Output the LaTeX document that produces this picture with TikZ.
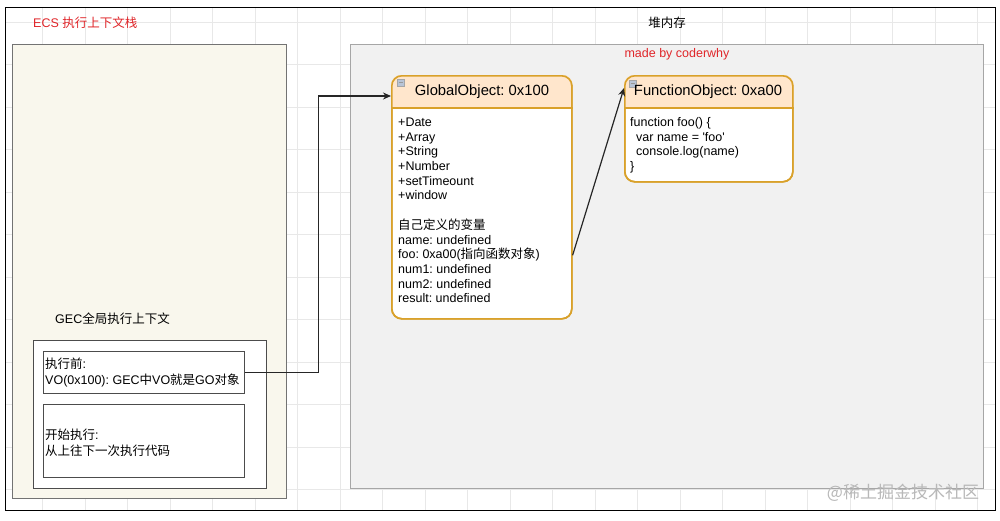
\documentclass[tikz,border=0pt]{standalone}
\usepackage{fontspec}
\setmainfont{Liberation Sans}
\newfontfamily\cjk{Noto Sans CJK SC}
\usetikzlibrary{arrows.meta,calc}
\frenchspacing
\definecolor{redtxt}{HTML}{E0262A}
\definecolor{ecsfill}{HTML}{F9F7ED}
\definecolor{heapfill}{HTML}{F1F1F1}
\definecolor{objborder}{HTML}{D9A12A}
\definecolor{objhead}{HTML}{FFE6CC}
\definecolor{gridc}{HTML}{E8E8E8}
\definecolor{iconc}{HTML}{B8C4D6}
\tikzset{
  txt/.style={inner sep=0pt, font=\fontsize{12.5}{14.7}\selectfont},
  bodytxt/.style={txt, align=left, anchor=north west},
  headtxt/.style={inner sep=0pt, font=\fontsize{14.8}{17}\selectfont},
  redlbl/.style={txt, text=redtxt},
  panel/.style={draw, anchor=north west, inner sep=0pt},
  objbox/.style={draw=objborder, line width=1.6pt, rounded corners=10pt, anchor=north west, inner sep=0pt},
  arr/.style={draw=black!85, line width=1.2pt, -{Stealth[length=8pt,width=7pt]}},
  icon/.style={draw=gray!70, fill=iconc, line width=0.4pt, minimum size=7pt, inner sep=0pt, anchor=north west}
}
\begin{document}
\frenchspacing
\begin{tikzpicture}[x=1pt,y=-1pt]
\useasboundingbox (0,0) rectangle (1000,520);
\fill[white] (0,0) rectangle (1000,520);
% grid
\begin{scope}
\clip (5,7) rectangle (995,510);
\foreach \i in {0,...,24} { \draw[gridc, line width=0.6pt] ({42.5*\i},7) -- ({42.5*\i},510); }
\foreach \j in {0,...,12} { \draw[gridc, line width=0.6pt] (5,{22+42.5*\j}) -- (995,{22+42.5*\j}); }
\end{scope}
\node[draw=black, line width=1.3pt, panel, minimum width=990, minimum height=503] (frame) at (5,7) {};

% ECS stack
\node[redlbl, anchor=west] (ecslbl) at (33,23) {ECS {\cjk 执行上下文栈}};
\node[panel, draw=black!55, fill=ecsfill, line width=1.1pt, minimum width=274, minimum height=454] (ecs) at (12,44) {};
\node[txt, anchor=west] (geclbl) at (55,319) {GEC{\cjk 全局执行上下文}};
\node[panel, draw=black!70, fill=white, line width=1.1pt, minimum width=233, minimum height=148] (gec) at (33,340) {};
\node[panel, draw=black!70, fill=white, line width=1.1pt, minimum width=201, minimum height=42] (vo) at (43,351) {};
\node[panel, draw=black!70, fill=white, line width=1.1pt, minimum width=201, minimum height=73] (run) at (43,404) {};
\node[bodytxt] (votxt) at (45,358) {\strut{\cjk 执行前}:\\VO(0x100): GEC{\cjk 中}VO{\cjk 就是}GO{\cjk 对象}};
\node[bodytxt] (runtxt) at (45,429) {\strut{\cjk 开始执行}:\\{\cjk 从上往下一次执行代码}};

% heap
\node[txt, anchor=center] (heaplbl) at (667,23) {\cjk 堆内存};
\node[panel, draw=black!35, fill=heapfill, line width=1.1pt, minimum width=633, minimum height=444] (heap) at (350,44) {};
\node[redlbl, anchor=center] (made) at (677,54) {made by coderwhy};

% GlobalObject
\node[objbox, fill=white, minimum width=180, minimum height=243] (go) at (391,75) {};
\begin{scope}
\clip[rounded corners=10pt] (go.north west) rectangle (go.south east);
\fill[objhead] (go.north west) rectangle ($(go.north east)+(0,33)$);
\end{scope}
\draw[objborder, line width=1.6pt] ($(go.north west)+(0,33)$) -- ($(go.north east)+(0,33)$);
\node[objbox, minimum width=180, minimum height=243] (goborder) at (391,75) {};
\node[icon] (goicon) at (397,79) {};
\draw[gray!80, line width=0.6pt] ($(goicon.west)+(1.5,0)$) -- ($(goicon.east)+(-1.5,0)$);
\node[headtxt] (gohead) at (482,92) {GlobalObject: 0x100};
\node[bodytxt] (gobody) at (398,116) {\strut+Date\\+Array\\+String\\+Number\\+setTimeount\\+window\\[14.7pt]{\cjk 自己定义的变量}\\name: undefined\\foo: 0xa00({\cjk 指向函数对象})\\num1: undefined\\num2: undefined\\result: undefined};

% FunctionObject
\node[objbox, fill=white, minimum width=168, minimum height=106] (fo) at (624,75) {};
\begin{scope}
\clip[rounded corners=10pt] (fo.north west) rectangle (fo.south east);
\fill[objhead] (fo.north west) rectangle ($(fo.north east)+(0,33)$);
\end{scope}
\draw[objborder, line width=1.6pt] ($(fo.north west)+(0,33)$) -- ($(fo.north east)+(0,33)$);
\node[objbox, minimum width=168, minimum height=106] (foborder) at (624,75) {};
\node[icon] (foicon) at (629,80) {};
\draw[gray!80, line width=0.6pt] ($(foicon.west)+(1.5,0)$) -- ($(foicon.east)+(-1.5,0)$);
\node[headtxt] (fohead) at (708,92) {FunctionObject: 0xa00};
\node[bodytxt] (fobody) at (630,116) {\strut function foo() \{\\\hspace*{6pt}var name = \textquotesingle foo\textquotesingle\\\hspace*{6pt}console.log(name)\\\}};

% connectors
\draw[arr] (vo.east) -- ++(73,0) |- ([yshift=-21pt]go.north west);
\draw[arr] ([yshift=-58pt]go.east) -- ([yshift=-13pt]fo.north west);

% watermark
\node[inner sep=0pt, font=\fontsize{17}{20}\selectfont\cjk, text=black!28] (wm) at (903,493) {@稀土掘金技术社区};
\end{tikzpicture}
\end{document}
